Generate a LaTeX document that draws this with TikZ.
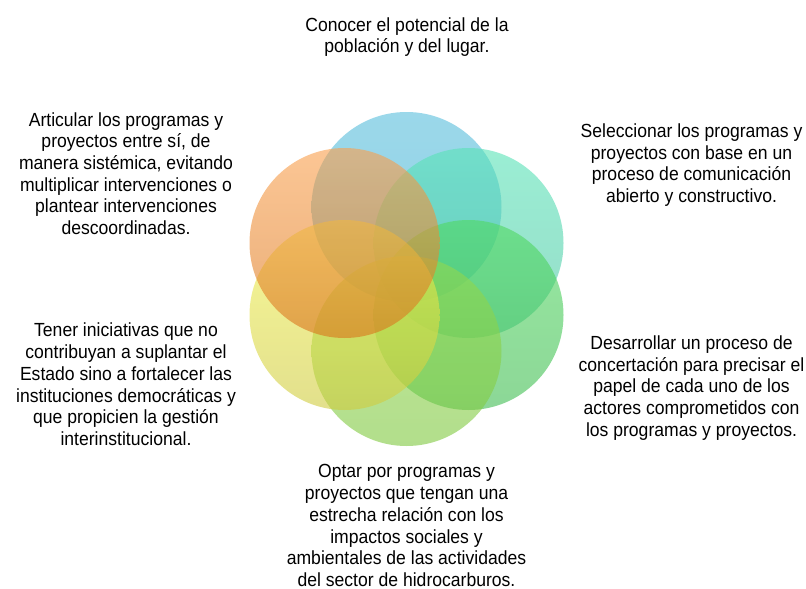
\documentclass[tikz,border=0pt]{standalone}
\usepackage{fontspec}
\setmainfont{Liberation Sans}[FakeStretch=0.925]
\definecolor{blueT}{RGB}{88,190,220}
\definecolor{blueB}{RGB}{72,177,210}
\definecolor{tealT}{RGB}{88,227,183}
\definecolor{tealB}{RGB}{77,197,163}
\definecolor{greenT}{RGB}{80,217,97}
\definecolor{greenB}{RGB}{63,188,80}
\definecolor{lgreenT}{RGB}{147,217,80}
\definecolor{lgreenB}{RGB}{127,200,63}
\definecolor{yellowT}{RGB}{243,243,80}
\definecolor{yellowB}{RGB}{207,203,63}
\definecolor{orangeT}{RGB}{250,160,77}
\definecolor{orangeB}{RGB}{217,117,27}
\tikzset{
  ring/.style={circle, minimum size=190pt, inner sep=0pt, fill opacity=0.6, draw=none},
  lbl/.style={align=center, anchor=north, inner sep=0pt, text=black,
    font=\fontsize{19}{21.7}\selectfont}
}
\begin{document}
\begin{tikzpicture}[x=1pt, y=-1pt]
\useasboundingbox (0,0) rectangle (806,589);
\node[ring, top color=blueT, bottom color=blueB] (c1) at (406.5,207) {};
\node[ring, top color=tealT, bottom color=tealB] (c2) at (468.5,243) {};
\node[ring, top color=greenT, bottom color=greenB] (c3) at (468.5,315) {};
\node[ring, top color=lgreenT, bottom color=lgreenB] (c4) at (406.5,351) {};
\node[ring, top color=yellowT, bottom color=yellowB] (c5) at (344.5,315) {};
\node[ring, top color=orangeT, bottom color=orangeB] (c6) at (344.5,243) {};

\node[lbl] (t1) at (407,17.2) {Conocer el potencial de la\\población y del lugar.};
\node[lbl] (t2) at (691.5,123.5) {Seleccionar los programas y\\proyectos con base en un\\proceso de comunicación\\abierto y constructivo.};
\node[lbl] (t3) at (691.5,335.5) {Desarrollar un proceso de\\concertación para precisar el\\papel de cada uno de los\\actores comprometidos con\\los programas y proyectos.};
\node[lbl] (t4) at (406.5,464.5) {Optar por programas y\\proyectos que tengan una\\estrecha relación con los\\impactos sociales y\\ambientales de las actividades\\del sector de hidrocarburos.};
\node[lbl] (t5) at (126,323) {Tener iniciativas que no\\contribuyan a suplantar el\\Estado sino a fortalecer las\\instituciones democráticas y\\que propicien la gestión\\interinstitucional.};
\node[lbl] (t6) at (126,112.1) {Articular los programas y\\proyectos entre sí, de\\manera sistémica, evitando\\multiplicar intervenciones o\\plantear intervenciones\\descoordinadas.};
\end{tikzpicture}
\end{document}
